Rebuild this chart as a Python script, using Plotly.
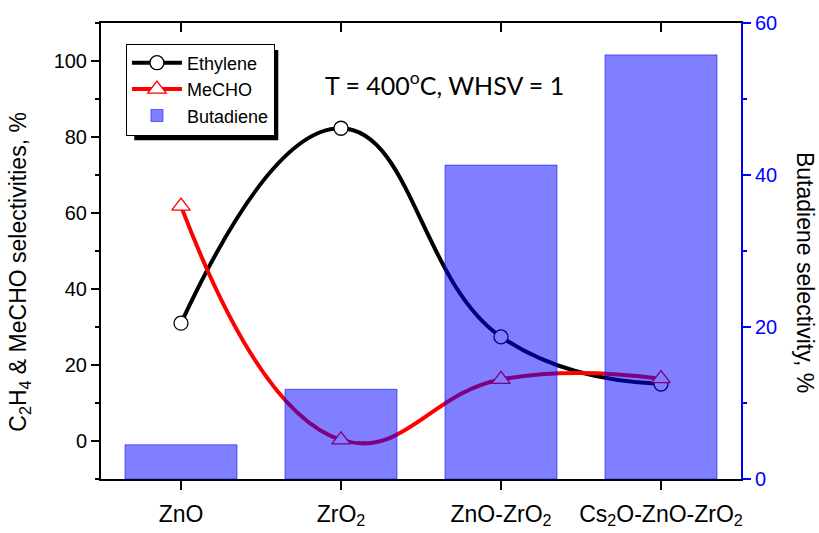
import plotly.graph_objects as go

categories = ["ZnO", "ZrO<sub>2</sub>", "ZnO-ZrO<sub>2</sub>", "Cs<sub>2</sub>O-ZnO-ZrO<sub>2</sub>"]
ethylene = [31.0, 82.3, 27.4, 15.0]
mecho = [61.8, 0.3, 16.2, 16.4]
butadiene = [4.5, 11.8, 41.3, 55.8]

FONT = "Arial, Liberation Sans, sans-serif"

fig = go.Figure()

fig.add_trace(go.Scatter(
    x=categories, y=ethylene, name="Ethylene", mode="lines+markers",
    line=dict(color="black", width=4, shape="spline", smoothing=1.3),
    marker=dict(symbol="circle", size=14, color="white", line=dict(color="black", width=1.3)),
    xaxis="x", yaxis="y",
))
fig.add_trace(go.Scatter(
    x=categories, y=mecho, name="MeCHO", mode="lines+markers",
    line=dict(color="red", width=4, shape="spline", smoothing=1.3),
    marker=dict(symbol="triangle-up", size=16, color="white", line=dict(color="red", width=1.3)),
    xaxis="x", yaxis="y",
))
fig.add_trace(go.Bar(
    x=categories, y=butadiene, name="Butadiene", width=0.7,
    marker=dict(color="rgba(0,0,255,0.5)", line=dict(color="rgba(0,0,255,0.55)", width=1)),
    xaxis="x", yaxis="y2",
))
# helper trace so that the top (mirror) axis with inward ticks is drawn
fig.add_trace(go.Scatter(
    x=categories, y=[None] * len(categories), xaxis="x2", yaxis="y",
    showlegend=False, hoverinfo="skip", mode="markers",
))

fig.update_layout(
    width=819, height=533,
    margin=dict(l=101, r=78, t=23, b=54, autoexpand=False),
    paper_bgcolor="white", plot_bgcolor="white",
    font=dict(family=FONT, color="black"),
    showlegend=True,
    xaxis=dict(
        type="category", categoryorder="array", categoryarray=categories,
        range=[-0.5, 3.5], showgrid=False, zeroline=False, automargin=False,
        showline=True, linecolor="black", linewidth=2,
        ticks="outside", ticklen=9, tickwidth=2, tickcolor="black",
        tickfont=dict(size=23, family=FONT, color="black"),
        ticklabelstandoff=4,
    ),
    xaxis2=dict(
        type="category", categoryorder="array", categoryarray=categories,
        overlaying="x", side="top", anchor="y", automargin=False,
        range=[-0.5, 3.5], showgrid=False, zeroline=False,
        showline=True, linecolor="black", linewidth=2,
        ticks="inside", ticklen=9, tickwidth=2, tickcolor="black",
        showticklabels=False,
    ),
    yaxis=dict(
        range=[-10, 110], tick0=0, dtick=20, showgrid=False, zeroline=False, automargin=False,
        showline=True, linecolor="black", linewidth=2,
        ticks="outside", ticklen=8, tickwidth=2, tickcolor="black",
        tickfont=dict(size=20, family=FONT, color="black"),
        minor=dict(dtick=10, tick0=0, ticks="outside", ticklen=4, tickwidth=2, tickcolor="black"),
    ),
    yaxis2=dict(
        range=[0, 60], tick0=0, dtick=20, overlaying="y", side="right", anchor="x",
        showgrid=False, zeroline=False, automargin=False,
        showline=True, linecolor="#0000FF", linewidth=2,
        ticks="outside", ticklen=8, tickwidth=2, tickcolor="#0000FF",
        tickfont=dict(size=20, family=FONT, color="#0000FF"),
        minor=dict(dtick=10, tick0=0, ticks="outside", ticklen=4, tickwidth=2, tickcolor="#0000FF"),
    ),
    legend=dict(
        x=0.039, y=0.955, xanchor="left", yanchor="top",
        bgcolor="white", bordercolor="black", borderwidth=1,
        font=dict(size=18, family=FONT, color="black"),
        tracegroupgap=0, itemwidth=50,
    ),
    shapes=[dict(
        type="rect", xref="paper", yref="paper", layer="above",
        x0=0.052, x1=0.277, y0=0.743, y1=0.941,
        fillcolor="black", line=dict(width=0),
    )],
    annotations=[
        dict(text="T = 400<sup>o</sup>C, WHSV = 1", xref="paper", yref="paper",
             x=0.536, y=0.868, xanchor="center", yanchor="middle", showarrow=False,
             font=dict(size=25, family="Lato, Open Sans, sans-serif", color="black")),
        dict(text="C<sub>2</sub>H<sub>4</sub> & MeCHO selectivities, %", xref="paper", yref="paper",
             x=-0.127, y=0.454, xanchor="center", yanchor="middle", showarrow=False,
             textangle=-90, font=dict(size=23, family=FONT, color="black")),
        dict(text="Butadiene selectivity, %", xref="paper", yref="paper",
             x=1.1, y=0.454, xanchor="center", yanchor="middle", showarrow=False,
             textangle=90, font=dict(size=23, family=FONT, color="black")),
    ],
)

fig.write_html("out.html")
